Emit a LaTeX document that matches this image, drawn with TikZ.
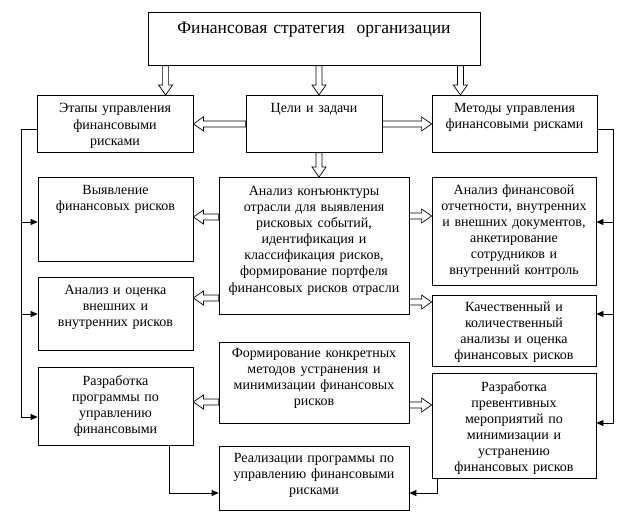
\documentclass[tikz,border=0pt]{standalone}
\usepackage{fontspec}
\setmainfont{Liberation Serif}
\usetikzlibrary{arrows.meta,calc}

\tikzset{
  blok/.style={draw, line width=0.8pt, inner xsep=2pt, inner ysep=0pt,
    align=center, anchor=north, font=\fontsize{14}{16.1}\selectfont},
  blockarrow/.style={draw, fill=white, line width=0.7pt, line join=miter},
  link/.style={line width=0.8pt, -{Triangle[length=7pt,width=6pt]}}
}

% hollow arrows (down, left, right)
\newcommand\blockdown[2]{%
  \draw[blockarrow] let \p1=(#1), \p2=(#2) in
    (\x1-3pt,\y1) -- (\x1-3pt,\y2+10pt) -- (\x1-7pt,\y2+10pt) -- (\x1,\y2)
    -- (\x1+7pt,\y2+10pt) -- (\x1+3pt,\y2+10pt) -- (\x1+3pt,\y1) -- cycle;}
\newcommand\blockleft[2]{%
  \draw[blockarrow] let \p1=(#1), \p2=(#2) in
    (\x1,\y1+3pt) -- (\x2+10pt,\y1+3pt) -- (\x2+10pt,\y1+7pt) -- (\x2,\y1)
    -- (\x2+10pt,\y1-7pt) -- (\x2+10pt,\y1-3pt) -- (\x1,\y1-3pt) -- cycle;}
\newcommand\blockright[2]{%
  \draw[blockarrow] let \p1=(#1), \p2=(#2) in
    (\x1,\y1+3pt) -- (\x2-10pt,\y1+3pt) -- (\x2-10pt,\y1+7pt) -- (\x2,\y1)
    -- (\x2-10pt,\y1-7pt) -- (\x2-10pt,\y1-3pt) -- (\x1,\y1-3pt) -- cycle;}

\begin{document}
\begin{tikzpicture}[x=1pt, y=-1pt]
\useasboundingbox (0,0) rectangle (624,523);

\node[blok, font=\fontsize{17.5}{19}\selectfont, text width=328pt, text height=21pt, text depth=32pt]
  (fin) at (314,12) {Финансовая стратегия\ \ организации};

\node[blok, text width=152pt, text height=17.5pt, text depth=39.5pt] (etapy) at (115,95)
  {Этапы управления\\финансовыми\\рисками};
\node[blok, text width=132pt, text height=17pt, text depth=40pt] (celi) at (314,95)
  {Цели и задачи};
\node[blok, text width=161pt, text height=17pt, text depth=40pt] (metody) at (514.5,95)
  {Методы управления\\финансовыми рисками};

\node[blok, text width=151pt, text height=17pt, text depth=67pt] (vyyav) at (115.5,177)
  {Выявление\\финансовых рисков};
\node[blok, text width=186pt, text height=18pt, text depth=119pt] (analiz) at (314,177)
  {Анализ конъюнктуры\\отрасли для выявления\\рисковых событий,\\идентификация и\\классификация рисков,\\формирование портфеля\\финансовых рисков отрасли};
\node[blok, text width=160pt, text height=17pt, text depth=91pt] (analizfin) at (514,177)
  {Анализ финансовой\\отчетности, внутренних\\и внешних документов,\\анкетирование\\сотрудников и\\внутренний контроль};

\node[blok, text width=151pt, text height=17pt, text depth=56pt] (ocenka) at (115.5,277)
  {Анализ и оценка\\внешних и\\внутренних рисков};
\node[blok, text width=160pt, text height=16pt, text depth=55pt] (kach) at (514,295)
  {Качественный и\\количественный\\анализы и оценка\\финансовых рисков};

\node[blok, text width=186pt, text height=15pt, text depth=66pt] (forma) at (314,342)
  {Формирование конкретных\\методов устранения и\\минимизации финансовых\\рисков};
\node[blok, text width=151pt, text height=18pt, text depth=60pt] (razprog) at (115.5,367)
  {Разработка\\программы по\\управлению\\финансовыми};
\node[blok, text width=160pt, text height=18pt, text depth=87pt] (prevent) at (514,373)
  {Разработка\\превентивных\\мероприятий по\\минимизации и\\устранению\\финансовых рисков};
\node[blok, text width=186pt, text height=16pt, text depth=48pt] (realiz) at (314,446)
  {Реализации программы по\\управлению финансовыми\\рисками};

% hollow arrows from the top
\coordinate (fa) at ([xshift=18pt]fin.south west);
\coordinate (fb) at ([xshift=5pt]fin.south);
\coordinate (fc) at ([xshift=-20pt]fin.south east);
\blockdown{fa}{fa |- etapy.north}
\blockdown{fb}{fb |- celi.north}
\blockdown{fc}{fc |- metody.north}
\blockdown{fb |- celi.south}{fb |- analiz.north}
\blockleft{celi.west}{etapy.east}
\blockright{celi.east}{metody.west}

% hollow arrows from the middle column
\blockleft{analiz.west |- 0,217}{vyyav.east |- 0,217}
\blockleft{analiz.west |- 0,298}{ocenka.east |- 0,298}
\blockright{analiz.east |- 0,216}{analizfin.west |- 0,216}
\blockright{analiz.east |- 0,302}{kach.west |- 0,302}
\blockleft{forma.west |- 0,402}{razprog.east |- 0,402}
\blockright{forma.east |- 0,405}{prevent.west |- 0,405}

% left bus
\draw[link] (etapy.west |- 0,129) -- (21,129) -- (21,417) -- (razprog.west |- 0,417);
\draw[link] (21,222) -- (vyyav.west |- 0,222);
\draw[link] (21,314) -- (ocenka.west |- 0,314);

% right bus
\draw[link] (metody.east |- 0,129) -- (613,129) -- (613,423) -- (prevent.east |- 0,423);
\draw[link] (613,222) -- (analizfin.east |- 0,222);
\draw[link] (613,314) -- (kach.east |- 0,314);

% to the last box
\draw[link] (razprog.south -| 169,0) -- (169,493) -- (realiz.west |- 0,493);
\draw[link] (prevent.south -| 437,0) -- (437,493) -- (realiz.east |- 0,493);

\end{tikzpicture}
\end{document}
